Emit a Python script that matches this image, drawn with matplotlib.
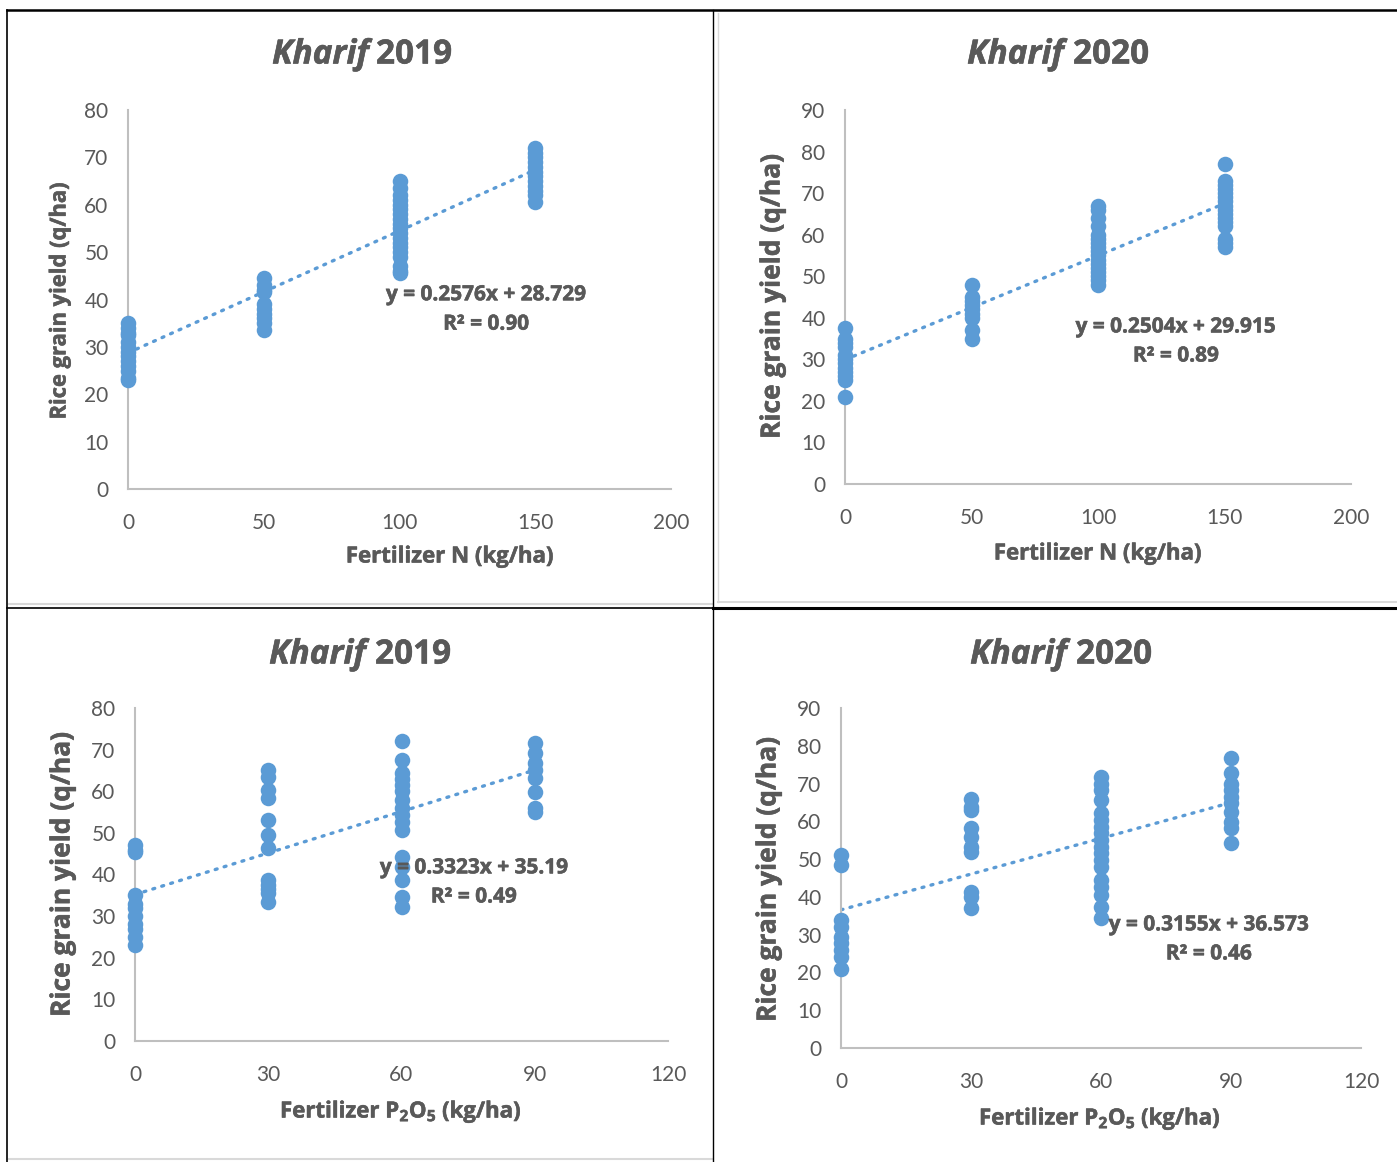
import numpy as np
import matplotlib
matplotlib.use("Agg")
import matplotlib.pyplot as plt
import matplotlib.patheffects as pe
from matplotlib.lines import Line2D

plt.rcParams['font.family'] = ['Lato', 'DejaVu Sans']
plt.rcParams['mathtext.fontset'] = 'custom'
plt.rcParams['mathtext.rm'] = 'Open Sans:bold'
plt.rcParams['mathtext.default'] = 'rm'

W, H = 1397, 1162
BLUE = '#5B9BD5'
GREY = '#595959'
BOLD = ['Open Sans', 'DejaVu Sans']
THICK = [pe.withStroke(linewidth=0.4, foreground=GREY)]

# --- data ---
n_levels = [0, 50, 100, 150]
p_levels = [0, 30, 60, 90]

n2019 = [
    [35, 34, 33, 32.5, 31, 30, 29, 28, 27, 26, 25, 23.5, 23],
    [44.5, 43, 42, 41.5, 39, 38, 37, 36, 35, 33.5],
    [65, 63.5, 62, 61, 60, 59, 58, 57, 56, 55, 54, 53, 52, 51, 50, 49, 47, 46, 45.5],
    [72, 71, 70, 69, 68, 67, 66, 65, 64, 63, 62, 60.5],
]
n2020 = [
    [37.5, 35, 34, 33, 31, 30, 29, 28, 27, 26, 25, 21],
    [48, 45, 44, 43, 42, 41, 40, 37, 35],
    [67, 66, 64, 62, 60, 59, 58, 57, 56, 55, 54, 53, 52, 51, 50, 49, 48],
    [77, 73, 72, 71, 70, 69, 68, 67, 66, 65, 64, 63, 62, 59, 58, 57],
]
p2019 = [
    [47, 46, 45.3, 35, 33, 32, 30, 28, 27, 25, 23],
    [65, 63.5, 60.3, 58.4, 53, 49.5, 46.4, 38.7, 37.5, 36.5, 35.6, 33.4],
    [72, 67.5, 64.4, 63, 61.5, 60, 58, 56, 54.3, 52.6, 50.7, 44.2, 41.8, 38.7, 34.6, 32.2],
    [71.6, 69.2, 66.8, 65.2, 63.2, 59.9, 56, 55],
]
p2020 = [
    [51, 48.4, 33.9, 32, 29.4, 27.8, 26, 24, 21],
    [66, 63.8, 63, 58.2, 55.8, 53.2, 51.9, 41.3, 40, 37],
    [71.7, 70, 68.3, 65.6, 62.2, 60.3, 58.5, 56.8, 55, 53.2, 51.6, 49.8, 48, 44.4, 42.6, 40.5, 37.3, 34.4],
    [76.7, 72.7, 70, 68.3, 66.4, 64.8, 62.4, 59.8, 58.2, 54.2],
]

fits = [(0.2576, 28.729, "0.90"), (0.2504, 29.915, "0.89"),
        (0.3323, 35.19, "0.49"), (0.3155, 36.573, "0.46")]
years = ["2019", "2020", "2019", "2020"]


def px_axes(left, right, top, bottom):
    return fig.add_axes([left / W, (H - bottom) / H, (right - left) / W, (bottom - top) / H])


fig = plt.figure(figsize=(W / 100, H / 100), dpi=100)

panels = [
    dict(d=n2019, lv=n_levels, xmax=200, xs=50, ymax=80, box=(128, 671, 110, 489),
         lab=(131.9, 41.0, 34.8)),
    dict(d=n2020, lv=n_levels, xmax=200, xs=50, ymax=90, box=(845, 1351, 110, 484),
         lab=(130.8, 37.8, 30.8)),
    dict(d=p2019, lv=p_levels, xmax=120, xs=30, ymax=80, box=(135, 668, 708, 1041),
         lab=(76.3, 41.6, 34.6)),
    dict(d=p2020, lv=p_levels, xmax=120, xs=30, ymax=90, box=(841, 1361, 708, 1048),
         lab=(84.9, 32.6, 24.9)),
]

for i, p in enumerate(panels):
    ax = px_axes(*p['box'])
    xs_all, ys_all = [], []
    for lv, vals in zip(p['lv'], p['d']):
        xs_all += [lv] * len(vals)
        ys_all += vals
    ax.scatter(xs_all, ys_all, s=125, color=BLUE, linewidths=0, zorder=3, clip_on=False)
    m, c, r2 = fits[i]
    xx = np.array([p['lv'][0], p['lv'][-1]])
    ax.plot(xx, m * xx + c, color=BLUE, lw=2.4, linestyle=(0, (0.6, 2.2)),
            dash_capstyle='round', zorder=2)
    ax.set_xlim(0, p['xmax'])
    ax.set_ylim(0, p['ymax'])
    ax.set_xticks(np.arange(0, p['xmax'] + 1, p['xs']))
    ax.set_yticks(np.arange(0, p['ymax'] + 1, 10))
    for s in ['top', 'right']:
        ax.spines[s].set_visible(False)
    for s in ['left', 'bottom']:
        ax.spines[s].set_color('#BFBFBF')
        ax.spines[s].set_linewidth(1.5)
    ax.tick_params(length=0, labelsize=15, labelcolor=GREY)
    ax.tick_params(axis='y', pad=14)
    ax.tick_params(axis='x', pad=17)
    lx, ly1, ly2 = p['lab']
    ax.text(lx, ly1, "y = %gx + %g" % (m, c), ha='center', va='center', family=BOLD,
            fontsize=15, fontweight='bold', color=GREY, zorder=4, path_effects=THICK)
    ax.text(lx, ly2, "R² = %s" % r2, ha='center', va='center', family=BOLD,
            fontsize=15, fontweight='bold', color=GREY, zorder=4, path_effects=THICK)

# titles
title_pos = [(369, 376, 55), (1064, 1073, 55), (366, 375, 655), (1067, 1076, 655)]
for (xr, xl, y), yr in zip(title_pos, years):
    fig.text(xr / W, 1 - y / H, "Kharif", ha='right', va='center', fontsize=24,
             family=BOLD, fontweight='bold', fontstyle='italic', color=GREY,
             path_effects=THICK)
    fig.text(xl / W, 1 - y / H, yr, ha='left', va='center', fontsize=24,
             family=BOLD, fontweight='bold', color=GREY, path_effects=THICK)

# axis labels
ylab_pos = [(60, 300, 15.8), (772, 297, 19), (62, 875, 19), (768, 880, 19)]
for x, y, fs in ylab_pos:
    fig.text(x / W, 1 - y / H, "Rice grain yield (q/ha)", rotation=90, ha='center',
             va='center', fontsize=fs, family=BOLD, fontweight='bold', color=GREY,
             path_effects=THICK)
xlab = [(450, 557, "Fertilizer N (kg/ha)"), (1098, 554, "Fertilizer N (kg/ha)"),
        (401, 1112, "Fertilizer P$_2$O$_5$ (kg/ha)"), (1100, 1119, "Fertilizer P$_2$O$_5$ (kg/ha)")]
for x, y, t in xlab:
    fig.text(x / W, 1 - y / H, t, ha='center', va='center', fontsize=16,
             family=BOLD, fontweight='bold', color=GREY, path_effects=THICK)


# table frame lines
def hline(y, x0, x1, lw, color='black'):
    fig.add_artist(Line2D([x0 / W, x1 / W], [1 - y / H, 1 - y / H], lw=lw, color=color))


def vline(x, y0, y1, lw, color='black'):
    fig.add_artist(Line2D([x / W, x / W], [1 - y0 / H, 1 - y1 / H], lw=lw, color=color))


hline(604, 9, 712, 1.5, '#D9D9D9')
hline(602, 718, 1397, 1.5, '#D9D9D9')
vline(718, 13, 602, 1.0, '#D9D9D9')
hline(1159, 9, 712, 1.5, '#D9D9D9')
hline(10, 7, 1397, 1.8)
hline(608, 7, 713, 1.2)
hline(608, 713, 1397, 2.2)
vline(7, 10, 1162, 1.2)
vline(713, 10, 1162, 1.0)

fig.savefig("out.png", dpi=100)
